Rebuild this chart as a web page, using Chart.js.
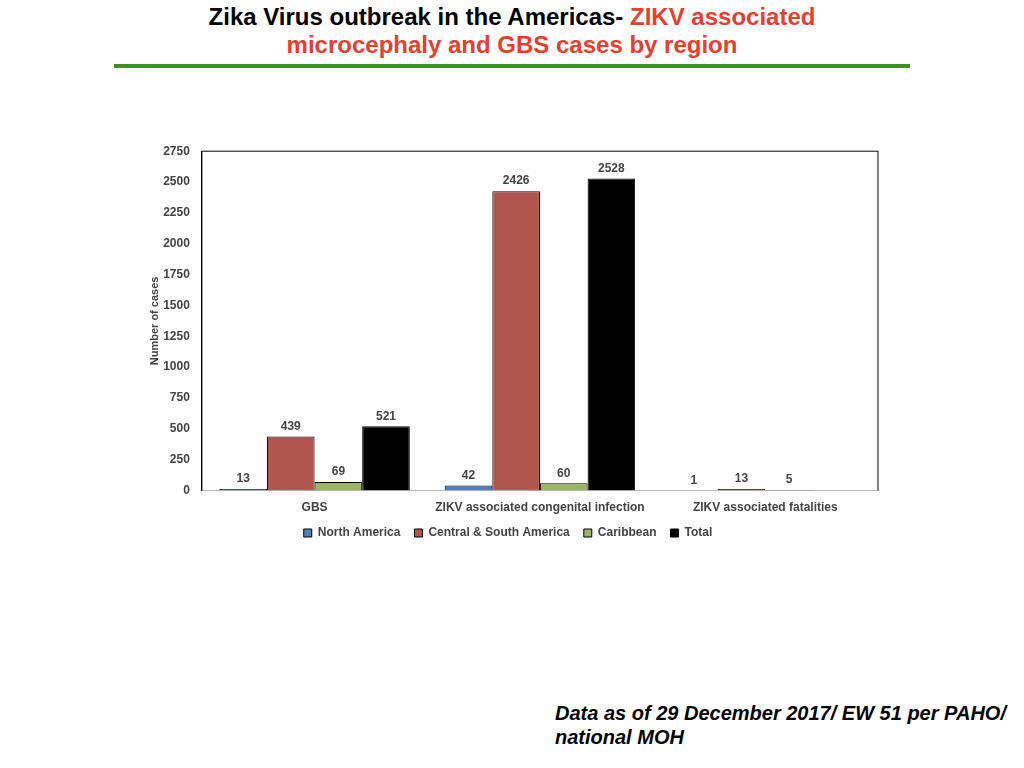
<!DOCTYPE html>
<html>
<head>
<meta charset="utf-8">
<script src="https://cdn.jsdelivr.net/npm/chart.js@4.4.0/dist/chart.umd.min.js"></script>
<style>
  body { margin: 0; width: 1024px; height: 768px; background: #fff; font-family: "Liberation Sans", Arial, sans-serif; position: relative; overflow: hidden; }
  #title { position: absolute; left: 0; width: 1024px; top: 3px; text-align: center; font-weight: bold; font-size: 24px; line-height: 28px; color: #000; }
  #title .red { color: #e5402d; }
  #rule { position: absolute; left: 114px; top: 64px; width: 796px; height: 4px; background: #3f8f2f; }
  #chartBox { position: absolute; left: 138px; top: 132px; width: 750px; height: 429px; }
  #note { position: absolute; left: 555px; top: 701px; font-weight: bold; font-style: italic; font-size: 20px; line-height: 24px; color: #000; }
</style>
</head>
<body>
<div id="title">Zika Virus outbreak in the Americas- <span class="red">ZIKV associated</span><br><span class="red">microcephaly and GBS cases by region</span></div>
<div id="rule"></div>
<div id="chartBox"><canvas id="zikaChart"></canvas></div>
<div id="note">Data as of 29 December 2017/ EW 51 per PAHO/<br>national MOH</div>
<script>
// data
const categories = ['GBS', 'ZIKV associated congenital infection', 'ZIKV associated fatalities'];
const northAmerica = [13, 42, 1];
const centralSouthAmerica = [439, 2426, 13];
const caribbean = [69, 60, 5];
const total = [521, 2528, null];
const yTicks = [0, 250, 500, 750, 1000, 1250, 1500, 1750, 2000, 2250, 2500, 2750];

const FONT = '"Liberation Sans", Arial, sans-serif';

// value labels above each bar
const valueLabels = {
    id: 'valueLabels',
    afterDatasetsDraw(chart) {
        const ctx = chart.ctx;
        ctx.save();
        ctx.font = 'bold 12px ' + FONT;
        ctx.fillStyle = '#444';
        ctx.textAlign = 'center';
        ctx.textBaseline = 'bottom';
        chart.data.datasets.forEach((ds, i) => {
            chart.getDatasetMeta(i).data.forEach((bar, j) => {
                if (ds.data[j] === null) return;
                ctx.fillText(ds.data[j], bar.x, bar.y - 4);
            });
        });
        ctx.restore();
    }
};

// black frame on top and right of the plot
const plotFrame = {
    id: 'plotFrame',
    beforeDatasetsDraw(chart) {
        const a = chart.chartArea;
        const ctx = chart.ctx;
        ctx.save();
        ctx.strokeStyle = '#000';
        ctx.lineWidth = 1;
        ctx.beginPath();
        ctx.moveTo(a.left, a.bottom);
        ctx.lineTo(a.left, a.top);
        ctx.lineTo(a.right, a.top);
        ctx.lineTo(a.right, a.bottom);
        ctx.stroke();
        ctx.restore();
    }
};

// pull the legend a bit closer to the category labels
const legendLift = {
    id: 'legendLift',
    afterLayout(chart) {
        chart.legend.top -= 12;
        chart.legend.bottom -= 12;
    }
};

const ctx = document.getElementById('zikaChart').getContext('2d');
new Chart(ctx, {
    type: 'bar',
    data: {
        labels: categories,
        datasets: [
            { label: 'North America', data: northAmerica, backgroundColor: '#4f7fc0' },
            { label: 'Central & South America', data: centralSouthAmerica, backgroundColor: '#b0564f' },
            { label: 'Caribbean', data: caribbean, backgroundColor: '#9bb565' },
            { label: 'Total', data: total, backgroundColor: '#000000' }
        ].map(d => Object.assign(d, { borderColor: '#000', borderWidth: 1, categoryPercentage: 0.845, barPercentage: 1.0 }))
    },
    options: {
        responsive: true,
        maintainAspectRatio: false,
        animation: false,
        layout: { padding: { left: 0, right: 10, top: 5, bottom: 0 } },
        plugins: {
            legend: {
                position: 'bottom',
                labels: {
                    boxWidth: 8, boxHeight: 8, padding: 14,
                    color: '#444',
                    font: { family: FONT, size: 12, weight: 'bold' }
                }
            },
            tooltip: { enabled: false }
        },
        scales: {
            x: {
                grid: { display: false, drawTicks: false },
                border: { display: true, color: '#bbb' },
                ticks: { color: '#444', font: { family: FONT, size: 12, weight: 'bold' }, padding: 10 }
            },
            y: {
                min: 0, max: 2750,
                afterBuildTicks: axis => { axis.ticks = yTicks.map(v => ({ value: v })); },
                grid: { display: false, drawTicks: false },
                border: { display: true, color: '#000' },
                ticks: { color: '#444', font: { family: FONT, size: 12, weight: 'bold' }, padding: 12, callback: v => String(v) },
                title: { display: true, text: 'Number of cases', color: '#444', padding: { top: 10, bottom: -10 }, font: { family: FONT, size: 11, weight: 'bold' } }
            }
        }
    },
    plugins: [valueLabels, plotFrame, legendLift]
});
</script>
</body>
</html>
